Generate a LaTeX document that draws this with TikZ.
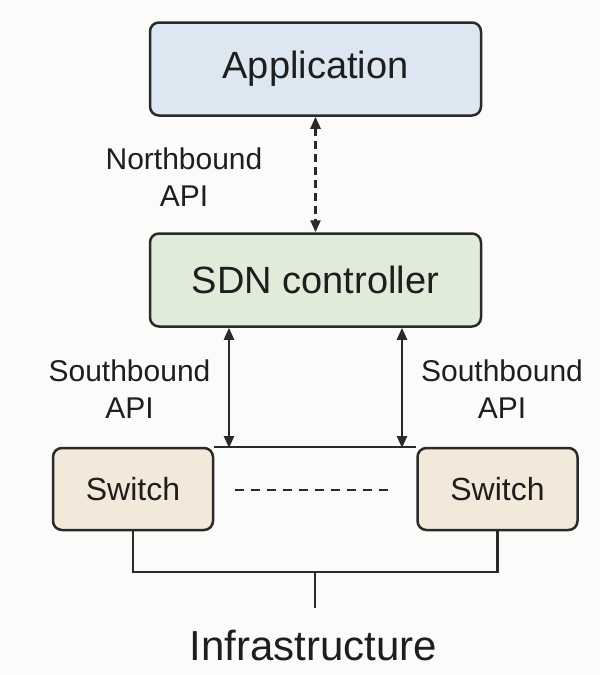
\documentclass[tikz,border=0pt]{standalone}
\usepackage{fontspec}
\setmainfont{Liberation Sans}
\usetikzlibrary{arrows.meta}

\definecolor{inkline}{HTML}{2A2A2A}
\definecolor{textink}{HTML}{1E1E1E}
\definecolor{appfill}{HTML}{DDE7F1}
\definecolor{ctrlfill}{HTML}{E0EBD9}
\definecolor{swfill}{HTML}{F3E9DA}
\definecolor{paper}{HTML}{FBFBFA}

\tikzset{
  box/.style={draw=inkline, line width=2.5pt, rounded corners=9pt,
    inner sep=0pt, text=textink},
  bigbox/.style={box, minimum width=331pt, minimum height=93pt,
    font=\fontsize{38}{46}\selectfont},
  swbox/.style={box, fill=swfill, minimum width=160pt, minimum height=82pt,
    font=\fontsize{32}{38}\selectfont},
  apilabel/.style={align=center, text=textink, inner sep=0pt,
    font=\fontsize{30}{37}\selectfont},
  wire/.style={draw=inkline, line width=2.4pt},
  twoway/.style={wire, {Triangle[length=12pt,width=10pt]}-{Triangle[length=12pt,width=10pt]}},
  dashtwoway/.style={twoway, dash pattern=on 8pt off 5pt},
  dotsline/.style={wire, line width=2.6pt, dash pattern=on 9pt off 7pt}
}

\begin{document}
\begin{tikzpicture}[x=1pt, y=-1pt]
  % canvas
  \fill[paper] (0,0) rectangle (600,675);
  \useasboundingbox (0,0) rectangle (600,675);

  % layers
  \node[bigbox, fill=appfill] (app) at (315.5,69) {Application};
  \node[bigbox, fill=ctrlfill] (sdn) at (315.5,280) {SDN controller};
  \node[swbox] (swL) at (133,489) {Switch};
  \node[swbox] (swR) at (497.5,489) {Switch};

  % API labels
  \node[apilabel] (nb) at (184,177) {Northbound\\API};
  \node[apilabel] (sbL) at (129.5,389) {Southbound\\API};
  \node[apilabel] (sbR) at (502,389) {Southbound\\API};

  % bottom caption
  \node[text=textink, inner sep=0pt, font=\fontsize{42}{50}\selectfont]
    (infra) at (313.5,645) {Infrastructure};

  % helper points on the switch rail and the bus
  \coordinate (railL) at (229,448);
  \coordinate (railR) at (402,448);
  \coordinate (bus) at (315,572);
  \coordinate (stemEnd) at (315,608);
  \coordinate (dotsL) at (235,490);
  \coordinate (dotsR) at (394,490);

  % northbound interface
  \draw[dashtwoway] (app.south) -- (sdn.north);

  % southbound interfaces
  \draw[twoway] (sdn.south -| railL) -- (railL);
  \draw[twoway] (sdn.south -| railR) -- (railR);

  % rail between the switches
  \draw[wire] (swL.north east) -- (swR.north west);
  \draw[dotsline] (dotsL) -- (dotsR);

  % bus down to the infrastructure
  \draw[wire] (swL.south) |- (bus) -| (swR.south);
  \draw[wire] (bus) -- (stemEnd);
\end{tikzpicture}
\end{document}
